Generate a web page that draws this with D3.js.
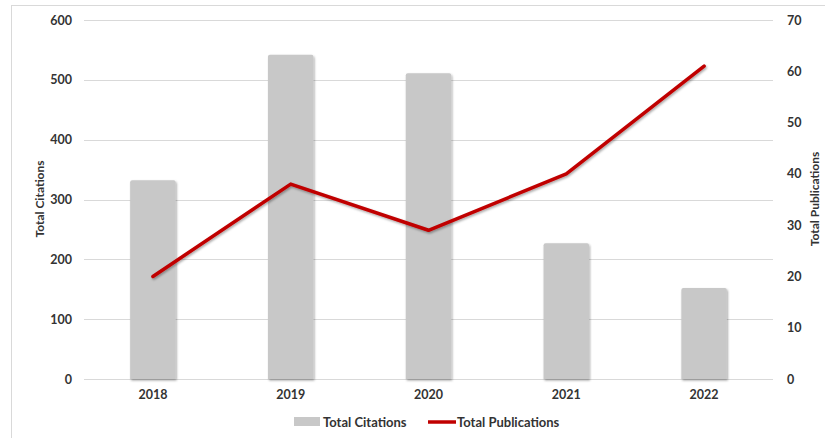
<!DOCTYPE html>
<html><head><meta charset="utf-8">
<script src="https://cdn.jsdelivr.net/npm/d3@7"></script>
<style>body{margin:0;background:#fff}svg{display:block}text{font-family:Lato,"Open Sans",sans-serif;font-weight:bold;fill:#333}</style>
</head><body>
<svg id="c" width="825" height="438"></svg>
<script>
const years = ["2018","2019","2020","2021","2022"];
const citations = [332, 542, 511, 227, 152];
const publications = [20, 38, 29, 40, 61];
const leftTicks = [0,100,200,300,400,500,600];
const rightTicks = [0,10,20,30,40,50,60,70];

const svg = d3.select("#c");
const m = {l:84, r:773, t:20, b:379};
const defs = svg.append("defs");
const f = defs.append("filter").attr("id","sh").attr("x","-20%").attr("y","-20%").attr("width","140%").attr("height","140%");
f.append("feDropShadow").attr("dx",1).attr("dy",1.5).attr("stdDeviation",1.2).attr("flood-color","#000").attr("flood-opacity",0.35);

svg.append("rect").attr("x",11.5).attr("y",5.5).attr("width",830).attr("height",450).attr("fill","none").attr("stroke","#D9D9D9");

const x = d3.scaleBand().domain(years).range([m.l,m.r]).paddingInner(0.67).paddingOuter(0.335);
const yL = d3.scaleLinear().domain([0,600]).range([m.b,m.t]);
const yR = d3.scaleLinear().domain([0,70]).range([m.b,m.t]);

svg.append("g").selectAll("line").data(leftTicks).join("line")
  .attr("x1",m.l).attr("x2",m.r).attr("y1",d=>Math.round(yL(d))+0.5).attr("y2",d=>Math.round(yL(d))+0.5)
  .attr("stroke","#D9D9D9").attr("stroke-width",1);

function styleTicks(g){
  g.select(".domain").remove();
  g.selectAll("text").attr("font-size",12.5).style("font-family","Lato,sans-serif").style("font-weight","bold").attr("fill","#333");
}
const gL = svg.append("g").attr("transform",`translate(${m.l},0)`)
  .call(d3.axisLeft(yL).tickValues(leftTicks).tickSize(0).tickPadding(12));
styleTicks(gL);
const gR = svg.append("g").attr("transform",`translate(${m.r},0)`)
  .call(d3.axisRight(yR).tickValues(rightTicks).tickSize(0).tickPadding(14));
styleTicks(gR);

svg.append("g").attr("filter","url(#sh)").selectAll("path").data(years).join("path")
  .attr("d",(d,i)=>{const x0=x(d),w=x.bandwidth(),y0=yL(citations[i]),y1=yL(0),r=2;
    return `M${x0},${y1}V${y0+r}Q${x0},${y0} ${x0+r},${y0}H${x0+w-r}Q${x0+w},${y0} ${x0+w},${y0+r}V${y1}Z`;})
  .attr("fill","#C8C8C8");

const line = d3.line().x((d,i)=>x(years[i])+x.bandwidth()/2).y(d=>yR(d));
svg.append("path").datum(publications).attr("d",line).attr("fill","none")
  .attr("stroke","#C00000").attr("stroke-width",3.5).attr("stroke-linejoin","round").attr("stroke-linecap","round").attr("filter","url(#sh)");

const gX = svg.append("g").attr("transform",`translate(0,${m.b})`)
  .call(d3.axisBottom(x).tickSize(0).tickPadding(11));
styleTicks(gX);

svg.append("text").attr("transform",`translate(44,199) rotate(-90)`).attr("text-anchor","middle").attr("font-size",12).attr("fill","#000").text("Total Citations");
svg.append("text").attr("transform",`translate(819,199) rotate(-90)`).attr("text-anchor","middle").attr("font-size",12).attr("fill","#000").text("Total Publications");

const lg = svg.append("g");
lg.append("rect").attr("x",294).attr("y",417).attr("width",26).attr("height",9).attr("fill","#C8C8C8");
lg.append("text").attr("x",323).attr("y",426.5).attr("font-size",13).text("Total Citations");
lg.append("line").attr("x1",428).attr("x2",456).attr("y1",422).attr("y2",422).attr("stroke","#C00000").attr("stroke-width",3.5);
lg.append("text").attr("x",457).attr("y",426.5).attr("font-size",13).text("Total Publications");
</script>
</body></html>
